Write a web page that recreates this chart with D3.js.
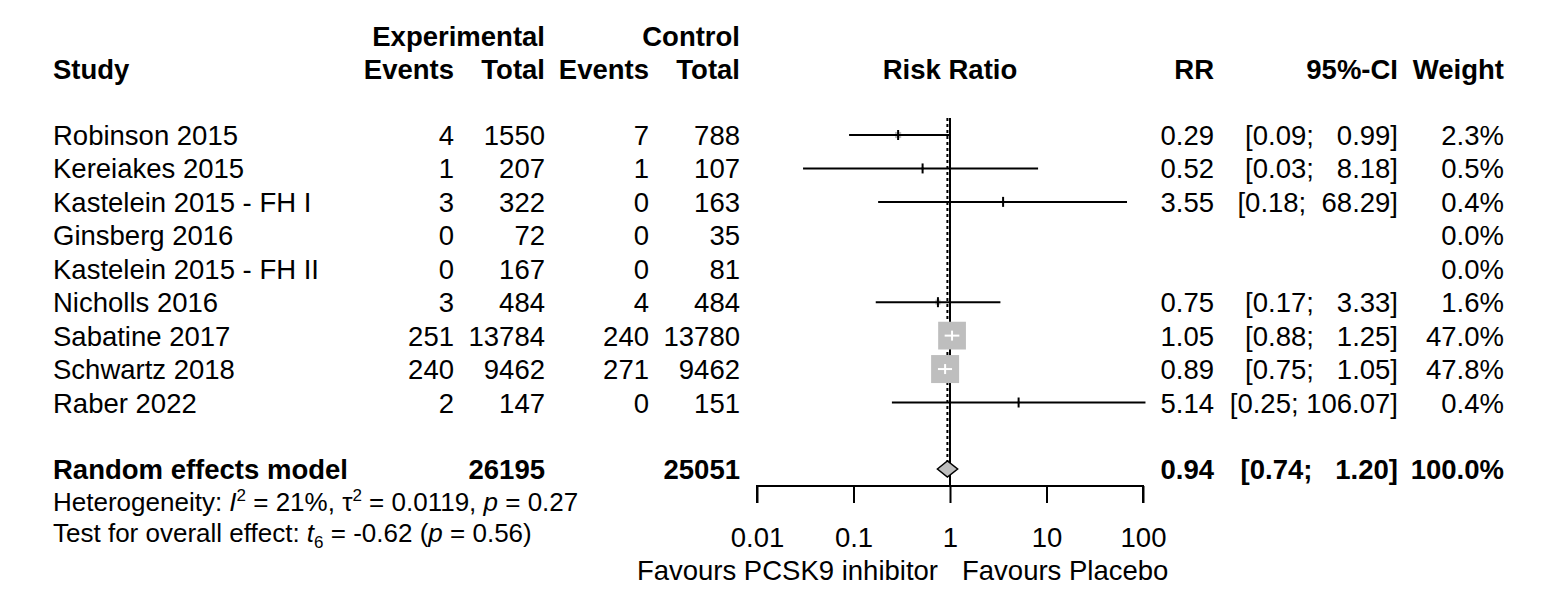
<!DOCTYPE html>
<html>
<head>
<meta charset="utf-8">
<script src="https://cdn.jsdelivr.net/npm/d3@7"></script>
<style>
  body { margin: 0; background: #fff; }
  svg text { font-family: "Liberation Sans", Arial, sans-serif; white-space: pre; fill: #000; }
</style>
</head>
<body>
<div id="chart"></div>
<script>
// study level data
const studies = ["Robinson 2015", "Kereiakes 2015", "Kastelein 2015 - FH I", "Ginsberg 2016",
  "Kastelein 2015 - FH II", "Nicholls 2016", "Sabatine 2017", "Schwartz 2018", "Raber 2022"];
const expEvents = [4, 1, 3, 0, 0, 3, 251, 240, 2];
const expTotal = [1550, 207, 322, 72, 167, 484, 13784, 9462, 147];
const ctrlEvents = [7, 1, 0, 0, 0, 4, 240, 271, 0];
const ctrlTotal = [788, 107, 163, 35, 81, 484, 13780, 9462, 151];
const rr = [0.29, 0.52, 3.55, null, null, 0.75, 1.05, 0.89, 5.14];
const lower = [0.09, 0.03, 0.18, null, null, 0.17, 0.88, 0.75, 0.25];
const upper = [0.99, 8.18, 68.29, null, null, 3.33, 1.25, 1.05, 106.07];
const weight = [2.3, 0.5, 0.4, 0.0, 0.0, 1.6, 47.0, 47.8, 0.4];

// pooled result
const pooled = { label: "Random effects model", expTotal: 26195, ctrlTotal: 25051, rr: 0.94, lower: 0.74, upper: 1.20, weight: 100.0 };
const axisTicks = [0.01, 0.1, 1, 10, 100];
const labelLeft = "Favours PCSK9 inhibitor";
const labelRight = "Favours Placebo";

const W = 1559, H = 605;
const fs = 27.5;
const svg = d3.select("#chart").append("svg").attr("width", W).attr("height", H);

const x = d3.scaleLog().domain([0.01, 100]).range([757, 1143]);
const y = d3.scaleLinear().domain([0, 8]).range([135, 402.5]);
const sq = d3.scaleSqrt().domain([0, 47.8]).range([0, 28]);

const fmt2 = d3.format(".2f");
const fmtW = d3.format(".1f");

function txt(xp, yp, s, anchor, bold, size) {
  return svg.append("text")
    .attr("x", xp).attr("y", yp)
    .attr("text-anchor", anchor || "start")
    .attr("font-size", size || fs)
    .attr("font-weight", bold ? "bold" : "normal")
    .text(s);
}
// R style CI string, upper bound padded with spaces
function ciText(lo, hi) {
  return "[" + fmt2(lo) + "; " + fmt2(hi).padStart(6, " ") + "]";
}

// column right edges
const colRR = 1214, colCI = 1398, colW = 1504;

// headers
txt(545, 46, "Experimental", "end", true);
txt(740, 46, "Control", "end", true);
txt(53, 79, "Study", "start", true);
txt(454, 79, "Events", "end", true);
txt(545, 79, "Total", "end", true);
txt(649, 79, "Events", "end", true);
txt(740, 79, "Total", "end", true);
txt(950, 79, "Risk Ratio", "middle", true);
txt(colRR, 79, "RR", "end", true);
txt(colCI, 79, "95%-CI", "end", true);
txt(colW, 79, "Weight", "end", true);

// rows of text
const off = 10;
studies.forEach((s, i) => {
  const yy = y(i) + off;
  txt(53, yy, s);
  txt(454, yy, String(expEvents[i]), "end");
  txt(545, yy, String(expTotal[i]), "end");
  txt(649, yy, String(ctrlEvents[i]), "end");
  txt(740, yy, String(ctrlTotal[i]), "end");
  if (rr[i] != null) {
    txt(colRR, yy, fmt2(rr[i]), "end");
    txt(colCI, yy, ciText(lower[i], upper[i]), "end");
  }
  txt(colW, yy, fmtW(weight[i]) + "%", "end");
});

const yPool = 469;
txt(53, yPool + off, pooled.label, "start", true);
txt(545, yPool + off, String(pooled.expTotal), "end", true);
txt(740, yPool + off, String(pooled.ctrlTotal), "end", true);
txt(colRR, yPool + off, fmt2(pooled.rr), "end", true);
txt(colCI, yPool + off, ciText(pooled.lower, pooled.upper), "end", true);
txt(colW, yPool + off, fmtW(pooled.weight) + "%", "end", true);

// heterogeneity lines
const small = 26;
const het = txt(53, 511, "", "start", false, small);
het.append("tspan").text("Heterogeneity: ");
het.append("tspan").attr("font-style", "italic").text("I");
het.append("tspan").attr("font-size", 17).attr("dy", -10).text("2");
het.append("tspan").attr("dy", 10).text(" = 21%, \u03c4");
het.append("tspan").attr("font-size", 17).attr("dy", -10).text("2");
het.append("tspan").attr("dy", 10).text(" = 0.0119, ");
het.append("tspan").attr("font-style", "italic").text("p");
het.append("tspan").text(" = 0.27");

const tst = txt(53, 542, "", "start", false, small);
tst.append("tspan").text("Test for overall effect: ");
tst.append("tspan").attr("font-style", "italic").text("t");
tst.append("tspan").attr("font-size", 17).attr("dy", 6).text("6");
tst.append("tspan").attr("dy", -6).text(" = -0.62 (");
tst.append("tspan").attr("font-style", "italic").text("p");
tst.append("tspan").text(" = 0.56)");

// reference lines
svg.append("line").attr("x1", x(1)).attr("x2", x(1))
  .attr("y1", 118).attr("y2", 486).attr("stroke", "#000").attr("stroke-width", 2);
svg.append("line").attr("x1", x(pooled.rr)).attr("x2", x(pooled.rr))
  .attr("y1", 118).attr("y2", yPool - 8).attr("stroke", "#000").attr("stroke-width", 2)
  .attr("stroke-dasharray", "3,3");

// study marks
const g = svg.append("g");
studies.forEach((s, i) => {
  if (rr[i] == null) return;
  const cy = y(i);
  const size = sq(weight[i]);
  const x0 = x(rr[i]);
  g.append("rect").attr("x", x0 - size / 2).attr("y", cy - size / 2)
    .attr("width", size).attr("height", size).attr("fill", "#bebebe");
  const inside = x(lower[i]) >= x0 - size / 2 && x(upper[i]) <= x0 + size / 2;
  const col = inside ? "#fff" : "#000";
  g.append("line").attr("x1", x(lower[i])).attr("x2", x(upper[i]))
    .attr("y1", cy).attr("y2", cy).attr("stroke", col).attr("stroke-width", 2);
  g.append("line").attr("x1", x0).attr("x2", x0)
    .attr("y1", cy - 5).attr("y2", cy + 5).attr("stroke", col).attr("stroke-width", 2);
});

// diamond
const dh = 8;
svg.append("path")
  .attr("d", `M${x(pooled.lower)},${yPool} L${x(pooled.rr)},${yPool - dh} L${x(pooled.upper)},${yPool} L${x(pooled.rr)},${yPool + dh} Z`)
  .attr("fill", "#bebebe").attr("stroke", "#000").attr("stroke-width", 1.5);

// axis
const axis = d3.axisBottom(x).tickValues(axisTicks).tickSize(17).tickPadding(24)
  .tickFormat(d => String(d));
const ag = svg.append("g").attr("transform", "translate(0,486)").call(axis);
ag.select(".domain").attr("stroke-width", 2).attr("d", `M${x(0.01)},17V0H${x(100)}V17`);
ag.selectAll(".tick line").attr("stroke-width", 2);
ag.selectAll(".tick text").attr("font-size", fs).attr("font-family", "Liberation Sans, Arial, sans-serif")
  .attr("dy", "0.71em");

txt(x(1) - 12, 580, labelLeft, "end", false, fs);
txt(x(1) + 12, 580, labelRight, "start", false, fs);
</script>
</body>
</html>
